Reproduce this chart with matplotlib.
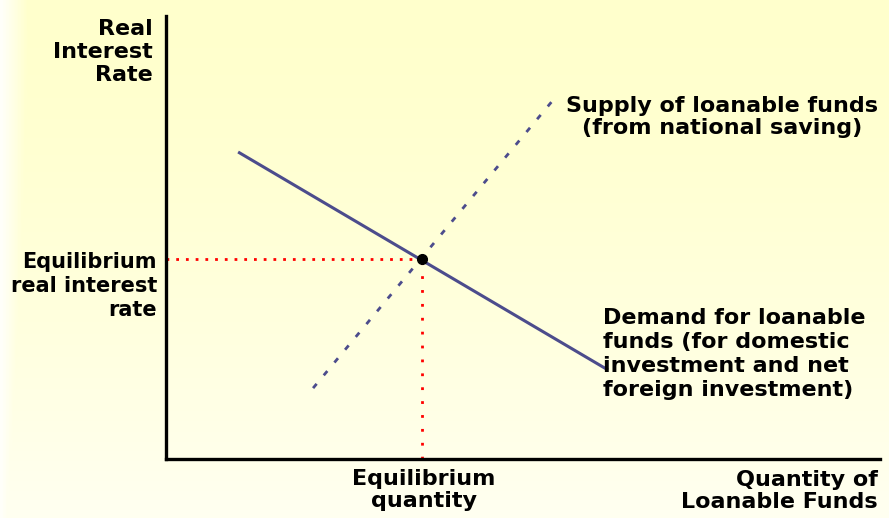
import numpy as np
import matplotlib
matplotlib.use("Agg")
import matplotlib.pyplot as plt

# loanable funds market (axes run 0..100)
supply_q = [20.6, 54.2]
supply_r = [16.0, 81.0]
demand_q = [10.1, 61.9]
demand_r = [69.3, 20.1]
eq_q, eq_r = 35.9, 45.2

W, H = 889, 518
fig = plt.figure(figsize=(W / 100, H / 100), dpi=100)

# pale yellow background, whiter towards the left edge and the bottom
bg = fig.add_axes([0, 0, 1, 1])
xx, yy = np.meshgrid(np.linspace(0, 1, 300), np.linspace(0, 1, 200))
white = np.maximum(np.clip(1 - xx / 0.03, 0, 1), 0.8 * yy ** 1.5)
img = np.zeros((200, 300, 3))
img[..., 0] = 1.0
img[..., 1] = 1.0
img[..., 2] = 0.80 + 0.18 * white
bg.imshow(img, aspect="auto", extent=[0, 1, 0, 1], origin="upper")
bg.axis("off")

ax = fig.add_axes([166 / W, (H - 459) / H, 714 / W, 443 / H])
ax.patch.set_alpha(0)
ax.set_xlim(0, 100)
ax.set_ylim(0, 100)
for s in ["top", "right"]:
    ax.spines[s].set_visible(False)
for s in ["left", "bottom"]:
    ax.spines[s].set_linewidth(2.4)
    ax.spines[s].set_color("black")
ax.set_xticks([])
ax.set_yticks([])

line_col = "#4c4c8c"
ax.plot(demand_q, demand_r, color=line_col, lw=2.2, solid_capstyle="butt")
ax.plot(supply_q, supply_r, color=line_col, lw=2.0, linestyle=(0, (2, 4)))
ax.plot([0, eq_q], [eq_r, eq_r], color="red", lw=2, linestyle=(0, (1, 2.5)))
ax.plot([eq_q, eq_q], [0, eq_r], color="red", lw=2, linestyle=(0, (1, 4)))
ax.plot([eq_q], [eq_r], "o", color="black", ms=7)

font = dict(family="DejaVu Sans", fontweight="bold", color="black")

fig.text(153 / W, 1 - 52 / H, "Real\nInterest\nRate", ha="right", va="center",
         fontsize=16, linespacing=1.18, **font)
fig.text(157 / W, 1 - 286 / H, "Equilibrium\nreal interest\nrate", ha="right", va="center",
         fontsize=15, linespacing=1.25, **font)
fig.text(722 / W, 1 - 117 / H, "Supply of loanable funds\n(from national saving)",
         ha="center", va="center", multialignment="center",
         fontsize=16, linespacing=1.15, **font)
fig.text(603 / W, 1 - 354 / H,
         "Demand for loanable\nfunds (for domestic\ninvestment and net\nforeign investment)",
         ha="left", va="center", fontsize=16, linespacing=1.25, **font)
fig.text(424 / W, 1 - 490 / H, "Equilibrium\nquantity", ha="center", va="center",
         multialignment="center", fontsize=16, linespacing=1.15, **font)
fig.text(878 / W, 1 - 491 / H, "Quantity of\nLoanable Funds", ha="right", va="center",
         multialignment="right", fontsize=16, linespacing=1.15, **font)

fig.savefig("out.png", dpi=100)
